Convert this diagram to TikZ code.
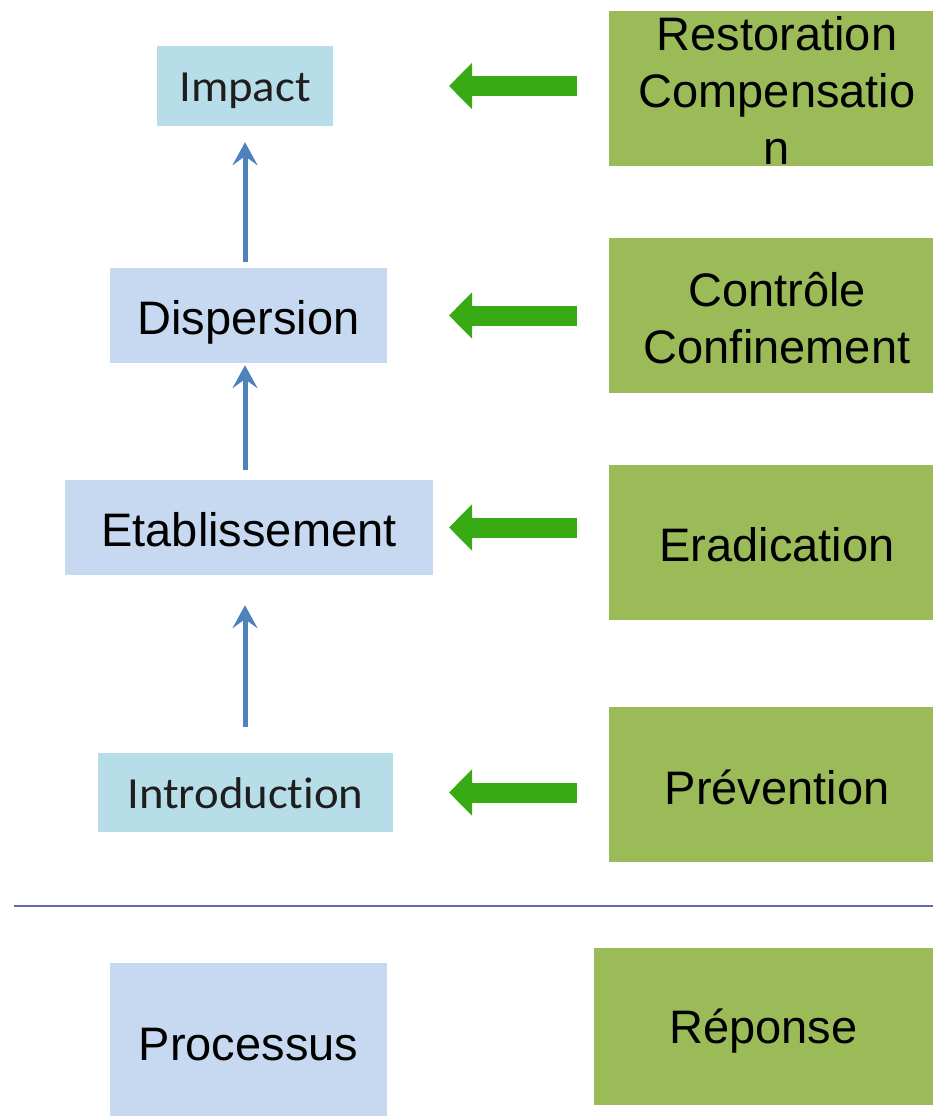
\documentclass[tikz,border=0pt]{standalone}
\usepackage{fontspec}
\setmainfont{Liberation Sans}
\newfontfamily\calib[Ligatures=NoCommon]{Carlito}
\usetikzlibrary{arrows.meta}
\definecolor{procblue}{HTML}{C6D9F0}
\definecolor{procaqua}{HTML}{B7DDE8}
\definecolor{respgreen}{HTML}{9BBB59}
\definecolor{arrgreen}{HTML}{38AB14}
\definecolor{arrblue}{HTML}{4F81BD}
\definecolor{sepline}{HTML}{6466BE}
\definecolor{darktext}{HTML}{1E1E1E}
\newcommand{\lowered}[2]{\raisebox{-#1}[0pt][0pt]{#2}}
\tikzset{
  big/.style={font=\fontsize{47}{57}\selectfont},
  procbox/.style={fill=procblue, draw=none, inner sep=0pt, big},
  aquabox/.style={fill=procaqua, draw=none, inner sep=0pt, text=darktext, font=\calib\fontsize{44.5}{54}\selectfont},
  respbox/.style={fill=respgreen, draw=none, inner sep=0pt},
  resptext/.style={align=center, big, inner sep=0pt},
  garrow/.style={arrgreen, line width=20pt, -{Triangle[length=23pt,width=45pt]}},
  barrow/.style={arrblue, line width=5pt, -{Stealth[length=23pt,width=25pt,inset=9pt]}},
}
\begin{document}
\begin{tikzpicture}[x=1pt,y=-1pt]
\useasboundingbox (0,0) rectangle (933,1116);
\begin{scope}
\clip (0,0) rectangle (933,1116);
% process boxes
\node[aquabox, minimum width=176pt, minimum height=80pt] (impact) at (245,86) {\lowered{15pt}{\scalebox{1.05}[1]{Impact}}};
\node[procbox, minimum width=277pt, minimum height=95pt] (disp) at (248.5,315.5) {\lowered{18.5pt}{Dispersion}};
\node[procbox, minimum width=368pt, minimum height=95pt] (etab) at (249,527.5) {\lowered{18.5pt}{Etablissement}};
\node[aquabox, minimum width=295pt, minimum height=79pt] (intro) at (245.5,792.5) {\lowered{15.5pt}{\scalebox{1.05}[1]{Introduction}}};
% response boxes
\node[respbox, minimum width=336pt, minimum height=155pt] (g1) at (777,88.5) {};
\node[resptext] (g1t) at (777,90) {Restoration\\Compensatio\\n};
\node[respbox, minimum width=336pt, minimum height=155pt] (g2) at (777,315.5) {};
\node[resptext] (g2t) at (777,318) {Contrôle\\Confinement};
\node[respbox, minimum width=336pt, minimum height=155pt] (g3) at (777,542.5) {};
\node[resptext] (g3t) at (777,545) {Eradication};
\node[respbox, minimum width=336pt, minimum height=155pt] (g4) at (777,784.5) {};
\node[resptext] (g4t) at (777,787) {Prévention};
% legend
\node[procbox, minimum width=277pt, minimum height=160pt] (proc) at (248.5,1043) {\lowered{17pt}{Processus}};
\node[respbox, minimum width=339pt, minimum height=157pt] (rep) at (763.5,1026.5) {};
\node[resptext] (rept) at (763.5,1031) {Réponse};
\end{scope}
% separator
\coordinate (sepL) at (14,906);
\coordinate (sepR) at (933,906);
\draw[sepline, line width=2.5pt] (sepL) -- (sepR);
% green arrows
\coordinate (tail) at (577,0);
\coordinate (tip) at (449,0);
\draw[garrow] (impact -| tail) -- (impact -| tip);
\draw[garrow] (disp -| tail) -- (disp -| tip);
\draw[garrow] (etab -| tail) -- (etab -| tip);
\draw[garrow] (intro -| tail) -- (intro -| tip);
% blue arrows
\coordinate (ax) at (245,0);
\draw[barrow] ([yshift=6pt]disp.north -| ax) -- ([yshift=-16pt]impact.south -| ax);
\draw[barrow] ([yshift=10pt]etab.north -| ax) -- ([yshift=-2pt]disp.south -| ax);
\draw[barrow] ([yshift=26pt]intro.north -| ax) -- ([yshift=-30pt]etab.south -| ax);
\end{tikzpicture}
\end{document}
